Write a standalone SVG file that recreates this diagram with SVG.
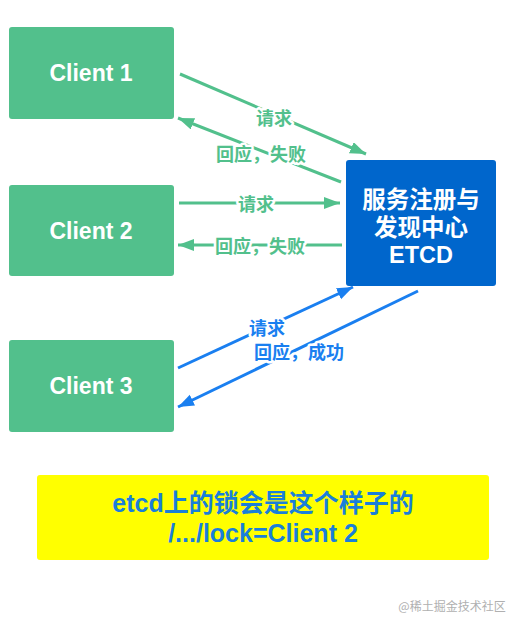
<svg xmlns="http://www.w3.org/2000/svg" width="518" height="628" viewBox="0 0 518 628">
<style>
.client{fill:#52c08c}
.ctext{fill:#fff;font-family:"Liberation Sans",Arial,sans-serif;font-weight:bold;font-size:23px;text-anchor:middle;dominant-baseline:central}
.etext{fill:#fff;font-family:"Liberation Sans","Noto Sans CJK SC",sans-serif;font-weight:bold;font-size:23.5px;text-anchor:middle;dominant-baseline:central}
.g{stroke:#52c08c;stroke-width:3;fill:none}
.b{stroke:#1a7ff0;stroke-width:3;fill:none}
.lbl{font-family:"Noto Sans CJK SC",sans-serif;font-weight:bold;font-size:18px;text-anchor:middle;dominant-baseline:central;paint-order:stroke;stroke:#fff;stroke-width:5px;stroke-linejoin:round}
.lg{fill:#52c08c}
.lb{fill:#1a7ff0}
.ytext{fill:#1a7fd9;font-family:"Liberation Sans","Noto Sans CJK SC",sans-serif;font-weight:bold;font-size:25px;text-anchor:middle;dominant-baseline:central}
</style>
<defs>
<marker id="ag" markerUnits="userSpaceOnUse" markerWidth="18" markerHeight="14" refX="16" refY="6" orient="auto"><path d="M0,0 L16,6 L0,12 z" fill="#52c08c"/></marker>
<marker id="ab" markerUnits="userSpaceOnUse" markerWidth="18" markerHeight="14" refX="16" refY="6" orient="auto"><path d="M0,0 L16,6 L0,12 z" fill="#1a7ff0"/></marker>
</defs>
<rect width="518" height="628" fill="#fff"/>
<g id="client1"><rect class="client" x="9" y="27" width="165" height="92" rx="3"/><text class="ctext" x="91" y="73">Client 1</text></g>
<g id="client2"><rect class="client" x="9" y="185" width="165" height="91" rx="3"/><text class="ctext" x="91" y="231">Client 2</text></g>
<g id="client3"><rect class="client" x="9" y="340" width="165" height="92" rx="3"/><text class="ctext" x="91" y="386">Client 3</text></g>
<g id="etcd"><rect x="346" y="160" width="150" height="126" rx="3" fill="#0066cc"/>
<text class="etext" x="421" y="200">服务注册与</text>
<text class="etext" x="421" y="228">发现中心</text>
<text class="etext" x="421" y="255">ETCD</text></g>
<g id="connectors">
<line class="g" x1="180" y1="74" x2="366" y2="154" marker-end="url(#ag)"/>
<line class="g" x1="341" y1="182" x2="178" y2="118" marker-end="url(#ag)"/>
<line class="g" x1="179" y1="203" x2="340" y2="203" marker-end="url(#ag)"/>
<line class="g" x1="342" y1="245" x2="178" y2="245" marker-end="url(#ag)"/>
<line class="b" x1="178" y1="368" x2="353" y2="287" marker-end="url(#ab)"/>
<line class="b" x1="418" y1="291" x2="178" y2="407" marker-end="url(#ab)"/>
<text class="lbl lg" x="274" y="117">请求</text>
<text class="lbl lg" x="261" y="153">回应，失败</text>
<text class="lbl lg" x="256" y="203">请求</text>
<text class="lbl lg" x="260" y="245">回应，失败</text>
<text class="lbl lb" x="267" y="327">请求</text>
<text class="lbl lb" x="299" y="351">回应，成功</text>
</g>
<g id="note"><rect x="37" y="475" width="452" height="85" rx="3" fill="#ffff00"/>
<text class="ytext" x="263" y="503">etcd上的锁会是这个样子的</text>
<text class="ytext" x="263" y="533">/.../lock=Client 2</text></g>
<text x="452" y="605" font-family="'Noto Sans CJK SC',sans-serif" font-size="12" fill="#b0b0b0" text-anchor="middle" dominant-baseline="central">@稀土掘金技术社区</text>
</svg>
